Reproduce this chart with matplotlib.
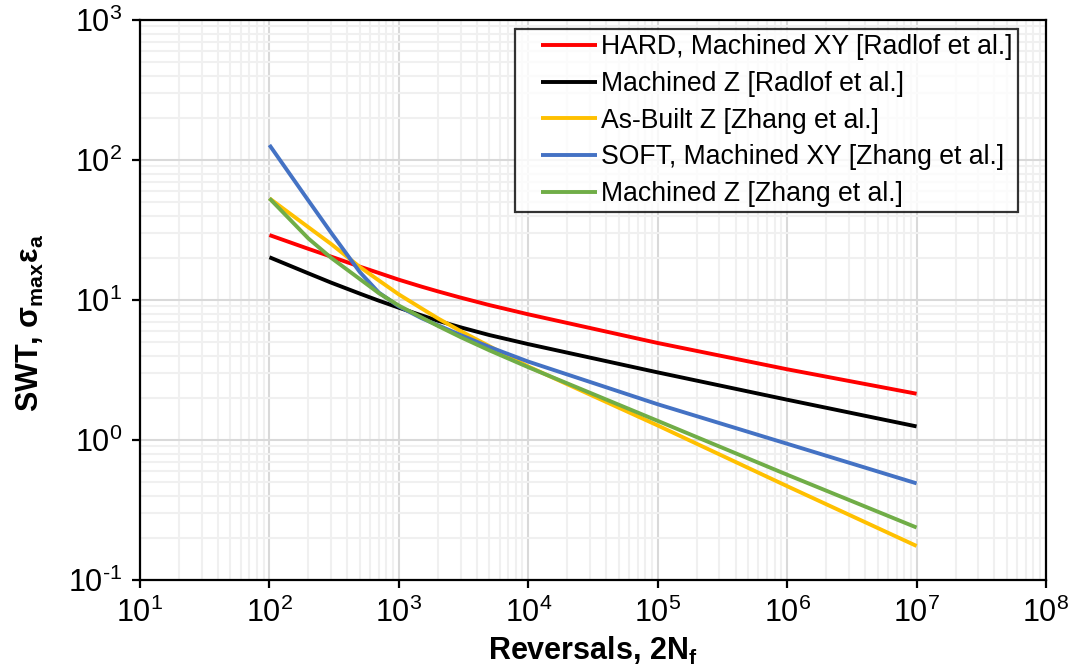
import matplotlib
matplotlib.use("Agg")
import matplotlib.pyplot as plt
from matplotlib.ticker import NullFormatter, FuncFormatter, FixedLocator
from matplotlib.legend_handler import HandlerBase
from matplotlib.lines import Line2D
import numpy as np

plt.rcParams['font.family'] = ['Liberation Sans', 'DejaVu Sans']
plt.rcParams['mathtext.fontset'] = 'custom'
plt.rcParams['mathtext.rm'] = 'Liberation Sans'
plt.rcParams['mathtext.it'] = 'Liberation Sans:italic'
plt.rcParams['mathtext.bf'] = 'Liberation Sans:bold'

reversals = [1e2, 2e2, 3e2, 5e2, 7e2, 1e3, 1.5e3, 2e3, 3e3, 5e3, 1e4, 1e5, 1e6, 1e7]
hard_xy_radlof = [29.1, 23.2, 20.4, 17.3, 15.6, 13.96, 12.45, 11.53, 10.4, 9.2, 7.9, 4.93, 3.2, 2.14]
mach_z_radlof = [20.2, 15.5, 13.3, 11.1, 9.89, 8.81, 7.76, 7.11, 6.38, 5.62, 4.84, 3.04, 1.94, 1.25]
asbuilt_z_zhang = [53.2, 33.1, 25.1, 17.2, 13.8, 10.96, 8.7, 7.4, 6.0, 4.68, 3.35, 1.27, 0.468, 0.175]
soft_xy_zhang = [128, 51.3, 30.2, 15.8, 11.3, 9.0, 7.41, 6.61, 5.62, 4.62, 3.63, 1.80, 0.94, 0.49]
mach_z_zhang = [53.2, 27.5, 20.0, 14.1, 11.2, 9.12, 7.5, 6.53, 5.43, 4.37, 3.31, 1.37, 0.565, 0.237]

labels = ["HARD, Machined XY [Radlof et al.]",
          "Machined Z [Radlof et al.]",
          "As-Built Z [Zhang et al.]",
          "SOFT, Machined XY [Zhang et al.]",
          "Machined Z [Zhang et al.]"]
colors = ["#FF0000", "#000000", "#FFC000", "#4472C4", "#70AD47"]
series = [hard_xy_radlof, mach_z_radlof, asbuilt_z_zhang, soft_xy_zhang, mach_z_zhang]

x_decades = [1e1, 1e2, 1e3, 1e4, 1e5, 1e6, 1e7, 1e8]
y_decades = [1e-1, 1e0, 1e1, 1e2, 1e3]

fig = plt.figure(figsize=(10.74, 6.72), dpi=100)
ax = fig.add_axes([140/1074, 1-580/672, (1046-140)/1074, (580-20)/672])

for vals, lab, col in zip(series, labels, colors):
    ax.plot(reversals, vals, color=col, lw=2.8, label=lab, solid_capstyle='butt',
            solid_joinstyle='round')

ax.set_xscale('log')
ax.set_yscale('log')
ax.set_xlim(x_decades[0], x_decades[-1])
ax.set_ylim(y_decades[0], y_decades[-1])
ax.xaxis.set_major_locator(FixedLocator(x_decades))
ax.yaxis.set_major_locator(FixedLocator(y_decades))
xminor = [d * k for d in x_decades[:-1] for k in range(2, 10)]
yminor = [d * k for d in y_decades[:-1] for k in range(2, 10)]
ax.xaxis.set_minor_locator(FixedLocator(xminor))
ax.yaxis.set_minor_locator(FixedLocator(yminor))
ax.xaxis.set_minor_formatter(NullFormatter())
ax.yaxis.set_minor_formatter(NullFormatter())


def pow_fmt(v, pos):
    e = int(round(np.log10(v)))
    s = str(e).replace('-', '\u2010')
    return r'$\mathdefault{10^{%s}}$' % s


ax.xaxis.set_major_formatter(FuncFormatter(pow_fmt))
ax.yaxis.set_major_formatter(FuncFormatter(pow_fmt))

ax.grid(True, which='major', color='#d9d9d9', lw=1.5, zorder=0)
ax.grid(True, which='minor', color='#f0f0f0', lw=1.5, zorder=0)
ax.set_axisbelow(True)

for s in ax.spines.values():
    s.set_color('black')
    s.set_linewidth(1.6)

ax.tick_params(which='major', direction='out', length=6, width=1.6, labelsize=22, pad=7)
ax.tick_params(which='minor', length=0)

ax.set_xlabel(r'Reversals, 2N$_\mathbf{f}$', fontsize=22, fontweight='bold', labelpad=4)
ax.set_ylabel(r'SWT, $\mathbf{\sigma_{max}\varepsilon_a}$', fontsize=22, fontweight='bold', labelpad=12)
ax.yaxis.set_label_coords(-0.104, 0.46)


class ShortLine(HandlerBase):
    def create_artists(self, legend, orig_handle, xdescent, ydescent, width, height, fontsize, trans):
        y = height / 2 - ydescent
        x0 = -xdescent + width * 0.28
        x1 = -xdescent + width
        ln = Line2D([x0, x1], [y, y], color=orig_handle.get_color(),
                    lw=orig_handle.get_linewidth(), solid_capstyle='butt')
        ln.set_transform(trans)
        return [ln]


leg = ax.legend(loc='upper right', bbox_to_anchor=(1018/1074, 1-29/672), bbox_transform=fig.transFigure,
                fontsize=19.2, frameon=True, fancybox=False, handlelength=2.9, handletextpad=0.15,
                borderpad=0.2, labelspacing=0.4, borderaxespad=0,
                handler_map={Line2D: ShortLine()})
leg.get_frame().set_edgecolor('black')
leg.get_frame().set_linewidth(1.6)

fig.savefig('out.png', dpi=100)
